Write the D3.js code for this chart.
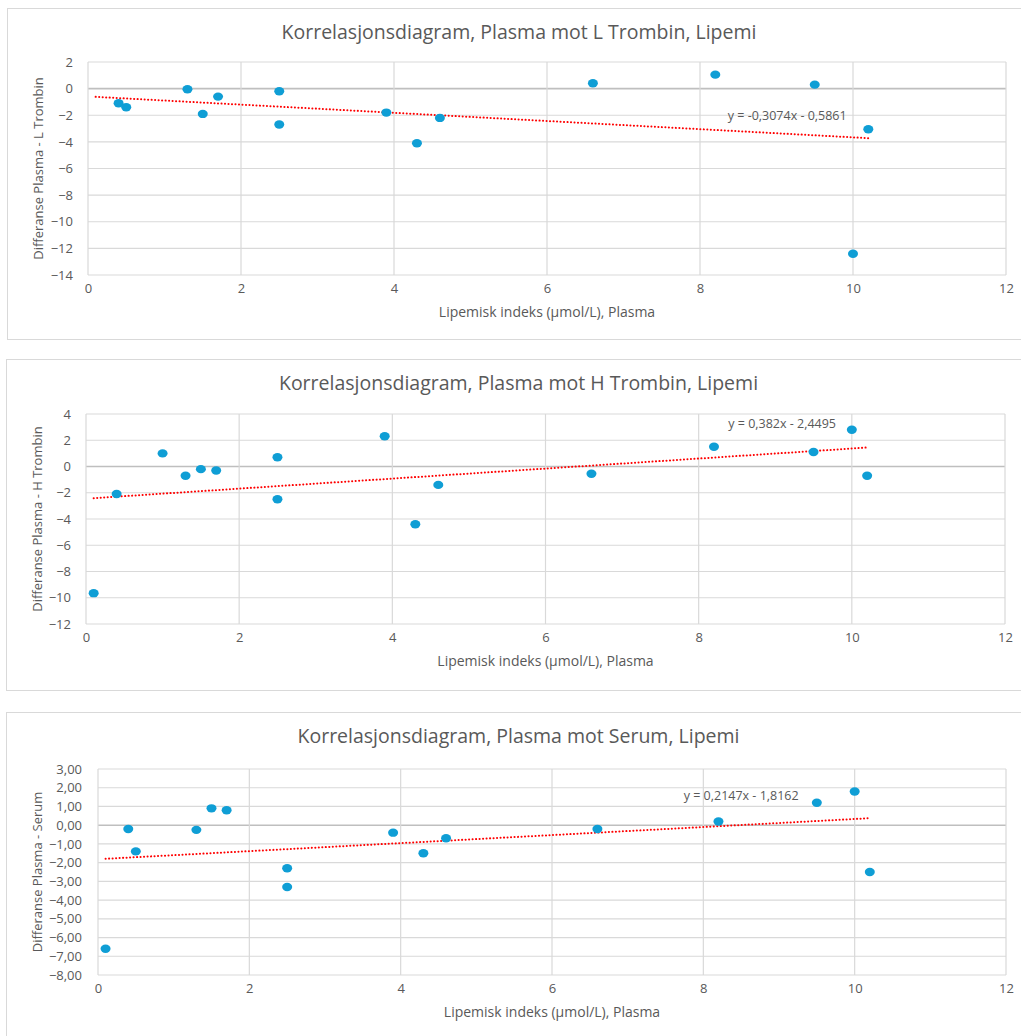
<!DOCTYPE html>
<html>
<head>
<meta charset="utf-8">
<script src="https://cdn.jsdelivr.net/npm/d3@7"></script>
<style>
  body { margin: 0; background: #fff; }
  text { font-family: "Open Sans", sans-serif; fill: #595959; }
</style>
</head>
<body>
<div id="chartArea"></div>
<script>
// Lipemisk indeks (x) and differences (y)
const xL = [0.4, 0.5, 1.3, 1.5, 1.7, 2.5, 2.5, 3.9, 4.3, 4.6, 6.6, 8.2, 9.5, 10.0, 10.2];
const yL = [-1.1, -1.4, -0.05, -1.9, -0.6, -0.2, -2.7, -1.8, -4.1, -2.2, 0.4, 1.05, 0.3, -12.4, -3.05];

const xH = [0.1, 0.4, 1.0, 1.3, 1.5, 1.7, 2.5, 2.5, 3.9, 4.3, 4.6, 6.6, 8.2, 9.5, 10.0, 10.2];
const yH = [-9.65, -2.1, 1.0, -0.7, -0.2, -0.3, 0.7, -2.5, 2.3, -4.4, -1.4, -0.55, 1.5, 1.1, 2.8, -0.7];

const xS = [0.1, 0.4, 0.5, 1.3, 1.5, 1.7, 2.5, 2.5, 3.9, 4.3, 4.6, 6.6, 8.2, 9.5, 10.0, 10.2];
const yS = [-6.6, -0.2, -1.4, -0.25, 0.9, 0.8, -2.3, -3.3, -0.4, -1.5, -0.7, -0.2, 0.2, 1.2, 1.8, -2.5];

// trendline coefficients [slope, intercept] and x range
const trendL = [-0.3074, -0.5861];
const trendH = [0.382, -2.4495];
const trendS = [0.2147, -1.8162];
const trendRange = [0.1, 10.2];

const xTicks = [0, 2, 4, 6, 8, 10, 12];
const yTicksL = [2, 0, -2, -4, -6, -8, -10, -12, -14];
const yTicksH = [4, 2, 0, -2, -4, -6, -8, -10, -12];
const yTicksS = [3, 2, 1, 0, -1, -2, -3, -4, -5, -6, -7, -8];

const titles = [
  "Korrelasjonsdiagram, Plasma mot L Trombin, Lipemi",
  "Korrelasjonsdiagram, Plasma mot H Trombin, Lipemi",
  "Korrelasjonsdiagram, Plasma mot Serum, Lipemi"
];
const yTitles = [
  "Differanse Plasma - L Trombin",
  "Differanse Plasma - H Trombin",
  "Differanse Plasma - Serum"
];
const eqLabels = ["y = -0,3074x - 0,5861", "y = 0,382x - 2,4495", "y = 0,2147x - 1,8162"];
const xTitle = "Lipemisk indeks (µmol/L), Plasma";

const W = 1021, H = 1036;
const svg = d3.select("#chartArea").append("svg")
  .attr("width", W)
  .attr("height", H);

const panels = [
  { xs: xL, ys: yL, trend: trendL, yTicks: yTicksL, fmt: d3.format("d"), pad: 15,
    box: [7, 8, 1031, 339], plot: { left: 88, right: 1006, top: 62, bottom: 275 },
    eqPos: [9.14, -2.06] },
  { xs: xH, ys: yH, trend: trendH, yTicks: yTicksH, fmt: d3.format("d"), pad: 15,
    box: [6, 359, 1031, 690], plot: { left: 86, right: 1005, top: 414, bottom: 624 },
    eqPos: [9.09, 3.24] },
  { xs: xS, ys: yS, trend: trendS, yTicks: yTicksS, fmt: d => d3.format(".2f")(d).replace(".", ","), pad: 16,
    box: [6, 712, 1031, 1060], plot: { left: 98, right: 1006, top: 769, bottom: 975 },
    eqPos: [8.5, 1.56] }
];

panels.forEach((p, i) => {
  const g = svg.append("g");

  g.append("rect")
    .attr("x", p.box[0] + 0.5)
    .attr("y", p.box[1] + 0.5)
    .attr("width", p.box[2] - p.box[0])
    .attr("height", p.box[3] - p.box[1])
    .attr("fill", "#fff")
    .attr("stroke", "#d9d9d9");

  const xScale = d3.scaleLinear().domain([0, 12]).range([p.plot.left, p.plot.right]);
  const yScale = d3.scaleLinear()
    .domain([d3.min(p.yTicks), d3.max(p.yTicks)])
    .range([p.plot.bottom, p.plot.top]);

  // gridlines
  g.append("g").selectAll("line.h")
    .data(p.yTicks)
    .enter().append("line")
    .attr("x1", p.plot.left).attr("x2", p.plot.right)
    .attr("y1", d => yScale(d)).attr("y2", d => yScale(d))
    .attr("stroke", d => d === 0 ? "#bfbfbf" : "#d9d9d9")
    .attr("stroke-width", d => d === 0 ? 1.6 : 1.2);
  g.append("g").selectAll("line.v")
    .data(xTicks)
    .enter().append("line")
    .attr("x1", d => xScale(d)).attr("x2", d => xScale(d))
    .attr("y1", p.plot.top).attr("y2", p.plot.bottom)
    .attr("stroke", "#d9d9d9")
    .attr("stroke-width", 1.2);

  // axes (labels only, Excel style)
  const xAxis = d3.axisBottom(xScale).tickValues(xTicks).tickSize(0).tickPadding(9);
  const xg = g.append("g")
    .attr("transform", "translate(0," + p.plot.bottom + ")")
    .call(xAxis);
  xg.select(".domain").remove();
  xg.selectAll("text").attr("fill", "#595959").style("font-size", "13px");

  const yAxis = d3.axisLeft(yScale).tickValues(p.yTicks).tickFormat(p.fmt).tickSize(0).tickPadding(p.pad);
  const yg = g.append("g")
    .attr("transform", "translate(" + p.plot.left + ",0)")
    .call(yAxis);
  yg.select(".domain").remove();
  yg.selectAll("text").attr("fill", "#595959").style("font-size", "13px");

  // title
  g.append("text")
    .attr("x", (p.box[0] + p.box[2]) / 2)
    .attr("y", p.box[1] + 31)
    .attr("text-anchor", "middle")
    .style("font-size", "19.5px")
    .text(titles[i]);

  // axis titles
  g.append("text")
    .attr("x", (p.plot.left + p.plot.right) / 2)
    .attr("y", p.plot.bottom + 42)
    .attr("text-anchor", "middle")
    .style("font-size", "14px")
    .text(xTitle);
  g.append("text")
    .attr("transform", "translate(" + (p.box[0] + 36) + "," + (p.plot.top + p.plot.bottom) / 2 + ") rotate(-90)")
    .attr("text-anchor", "middle")
    .style("font-size", "13px")
    .text(yTitles[i]);

  // trendline
  const trendPts = trendRange.map(x => [x, p.trend[0] * x + p.trend[1]]);
  g.append("path")
    .datum(trendPts)
    .attr("d", d3.line().x(d => xScale(d[0])).y(d => yScale(d[1])))
    .attr("fill", "none")
    .attr("stroke", "#ff0000")
    .attr("stroke-width", 2)
    .attr("stroke-linecap", "round")
    .attr("stroke-dasharray", "0.1,3.4");

  // points
  const pts = p.xs.map((x, j) => ({ x: x, y: p.ys[j] }));
  g.append("g").selectAll("ellipse")
    .data(pts)
    .enter().append("ellipse")
    .attr("cx", d => xScale(d.x))
    .attr("cy", d => yScale(d.y))
    .attr("rx", 5)
    .attr("ry", 4.2)
    .attr("fill", "#0f9ed5");

  // equation label
  g.append("text")
    .attr("x", xScale(p.eqPos[0]))
    .attr("y", yScale(p.eqPos[1]))
    .attr("dy", "0.35em")
    .attr("text-anchor", "middle")
    .style("font-size", "12.5px")
    .text(eqLabels[i]);
});
</script>
</body>
</html>
